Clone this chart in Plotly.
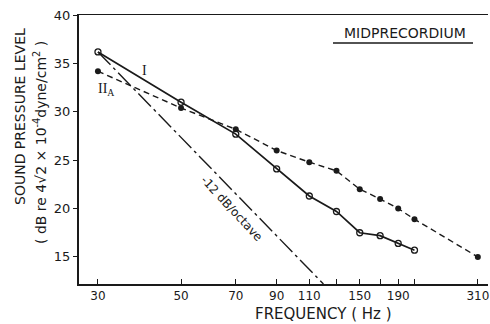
import numpy as np
import plotly.graph_objects as go

# ---- data ----
freq_I = [30, 50, 70, 90, 110, 130, 150, 170, 190, 210]
spl_I = [36.2, 31.0, 27.7, 24.1, 21.3, 19.7, 17.5, 17.2, 16.4, 15.7]

freq_IIA = [30, 50, 70, 90, 110, 130, 150, 170, 190, 210, 310]
spl_IIA = [34.2, 30.4, 28.2, 26.0, 24.8, 23.9, 22.0, 21.0, 20.0, 18.9, 15.0]

freq_slope = [30, 120]          # -12 dB/octave reference line
spl_slope = [36.2, 12.2]

tick_vals = [30, 50, 70, 90, 110, 150, 190, 310]
tick_text = ["30", "50", "70", "90", "110", "150", "190", "310"]
minor_tick_vals = [130, 170, 210]
y_ticks = [15, 20, 25, 30, 35, 40]

FONT = "DejaVu Sans"
INK = "#1a1a1a"

fig = go.Figure()
fig.add_trace(go.Scatter(
    x=freq_slope, y=spl_slope, mode="lines",
    line=dict(color=INK, width=1.4, dash="18px,4px,3px,4px"),
    hoverinfo="skip"))
fig.add_trace(go.Scatter(
    x=freq_IIA, y=spl_IIA, mode="lines+markers",
    line=dict(color=INK, width=1.4, dash="6px,4px"),
    marker=dict(symbol="circle", size=6, color=INK)))
fig.add_trace(go.Scatter(
    x=freq_I, y=spl_I, mode="lines+markers",
    line=dict(color=INK, width=1.7),
    marker=dict(symbol="circle-open", size=6, color=INK, line=dict(width=1.3))))

W, H = 490, 324
PX0, PX1, PY0, PY1 = 79, 488, 15, 284      # plot area in window pixels
L, R, T, B = PX0, W - PX1, PY0, H - PY1
pw, ph = PX1 - PX0, PY1 - PY0

def px(xp):
    return (xp - PX0) / pw

def py(yp):
    return (PY1 - yp) / ph

annots = [
    dict(text="SOUND PRESSURE LEVEL", x=px(20), y=py(117), textangle=-90, size=14),
    dict(text="( dB re 4\u221a2 \u00d7 10<sup>-4</sup>dyne/cm<sup>2</sup> )", x=px(40), y=py(143), textangle=-90, size=14),
    dict(text="FREQUENCY ( Hz )", x=px(323), y=py(314), textangle=0, size=15),
    dict(text="MIDPRECORDIUM", x=px(405), y=py(33), textangle=0, size=14),
]
for a in annots:
    fig.add_annotation(text=a["text"], x=a["x"], y=a["y"], xref="paper", yref="paper",
                       textangle=a["textangle"], showarrow=False,
                       font=dict(family=FONT, size=a["size"], color=INK),
                       xanchor="center", yanchor="middle")

fig.add_annotation(text="I", x=np.log10(40), y=34.3, showarrow=False,
                   font=dict(family="Liberation Serif", size=14, color=INK))
fig.add_annotation(text="II<sub>A</sub>", x=np.log10(31.6), y=32.3, showarrow=False,
                   font=dict(family="Liberation Serif", size=14, color=INK))
fig.add_annotation(text="-12 dB/octave", x=np.log10(68.5), y=20.0, showarrow=False,
                   textangle=47,
                   font=dict(family=FONT, size=12, color=INK))

fig.add_shape(type="line", xref="paper", yref="paper",
              x0=px(333), x1=px(473), y0=py(43), y1=py(43),
              line=dict(color=INK, width=1.5))

fig.update_layout(
    width=W, height=H,
    margin=dict(l=L, r=R, t=T, b=B),
    paper_bgcolor="white", plot_bgcolor="white",
    showlegend=False, hovermode=False,
    font=dict(family=FONT, color=INK, size=12),
    xaxis=dict(type="log", range=[np.log10(26.7), np.log10(330)],
               tickmode="array", tickvals=tick_vals, ticktext=tick_text,
               ticks="inside", ticklen=5, tickcolor=INK,
               minor=dict(tickmode="array", tickvals=minor_tick_vals,
                          ticks="inside", ticklen=5, tickcolor=INK, showgrid=False),
               showline=True, linecolor=INK, linewidth=1.5, mirror=True,
               showgrid=False, zeroline=False, tickfont=dict(size=12)),
    yaxis=dict(range=[12.2, 40.02], tickmode="array", tickvals=y_ticks,
               ticks="outside", ticklen=4, tickcolor=INK,
               showline=True, linecolor=INK, linewidth=2,
               showgrid=False, zeroline=False, tickfont=dict(size=13)),
)

fig.write_html("out.html", config={"displayModeBar": False, "staticPlot": True},
               post_script="document.body.style.margin='0';document.body.style.overflow='hidden';")
